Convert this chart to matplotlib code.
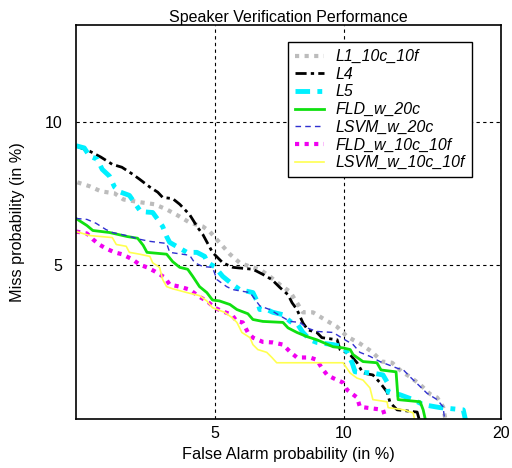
import numpy as np
import matplotlib
matplotlib.use('Agg')
import matplotlib.pyplot as plt
from statistics import NormalDist

# DET curves, values in percent (false alarm, miss)
l1_fa = [2.12, 2.30, 2.48, 2.71, 2.87, 3.18, 3.49, 3.76, 4.07, 4.32, 4.67, 4.86, 5.14, 5.46, 5.77,
         6.11, 6.45, 6.81, 7.19, 7.59, 7.87, 8.12, 8.55, 9.00, 9.66, 10.15, 10.80, 11.44, 11.99,
         12.57, 13.15, 13.64, 14.27, 14.90, 15.37, 15.77, 15.97]
l1_miss = [7.57, 7.43, 7.25, 7.18, 6.97, 6.88, 6.81, 6.64, 6.41, 6.22, 6.10, 5.95, 5.63, 5.30, 5.07,
           4.97, 4.90, 4.72, 4.52, 4.35, 4.10, 3.89, 3.89, 3.76, 3.59, 3.40, 3.27, 3.12, 2.95,
           2.93, 2.78, 2.70, 2.58, 2.44, 2.39, 2.26, 2.05]

l4_fa = [2.09, 2.30, 2.48, 2.67, 2.84, 3.04, 3.18, 3.39, 3.56, 3.67, 3.90, 4.07, 4.32, 4.53, 4.67,
         4.94, 5.24, 5.55, 6.21, 6.56, 6.89, 7.19, 7.51, 7.67, 7.87, 8.12, 8.33, 8.72, 8.95, 9.66,
         9.80, 10.30, 10.65, 10.96, 11.49, 11.88, 12.28, 12.45, 12.86, 14.08, 14.27]
l4_miss = [8.98, 8.76, 8.52, 8.24, 8.13, 7.87, 7.68, 7.40, 7.22, 7.04, 7.00, 6.81, 6.47, 6.07, 5.86,
           5.35, 5.07, 4.95, 4.90, 4.77, 4.64, 4.45, 4.28, 4.10, 3.95, 3.67, 3.53, 3.48, 3.38, 3.34,
           3.16, 3.07, 2.93, 2.76, 2.73, 2.61, 2.47, 2.32, 2.22, 2.19, 2.05]

l5_fa = [2.10, 2.22, 2.30, 2.42, 2.50, 2.62, 2.71, 2.82, 2.98, 3.10, 3.20, 3.45, 3.56, 3.67, 3.76,
         3.83, 4.25, 4.51, 4.72, 4.80, 5.00, 5.24, 5.55, 5.77, 6.21, 6.38, 6.45, 6.70, 6.93, 7.31,
         7.59, 7.91, 8.12, 8.42, 8.72, 9.47, 9.95, 10.15, 10.40, 10.55, 11.49, 12.05, 12.28, 12.34,
         13.03, 13.83, 14.46, 15.56, 17.17, 17.38]
l5_miss = [8.98, 8.89, 8.56, 8.44, 8.05, 7.80, 7.40, 7.22, 7.11, 6.81, 6.57, 6.54, 6.32, 6.10, 5.80,
           5.63, 5.35, 5.35, 5.24, 5.07, 4.97, 4.72, 4.52, 4.40, 4.33, 4.10, 3.95, 3.95, 3.89, 3.84,
           3.70, 3.63, 3.48, 3.34, 3.29, 3.25, 3.21, 3.11, 2.93, 2.78, 2.76, 2.73, 2.62, 2.47,
           2.43, 2.36, 2.29, 2.25, 2.22, 2.05]

fld20_fa = [2.10, 2.26, 2.35, 2.62, 2.94, 3.14, 3.25, 3.33, 3.76, 3.90, 4.07, 4.27, 4.40, 4.58, 4.78,
            4.94, 5.14, 5.46, 5.68, 6.04, 6.21, 6.56, 7.31, 7.51, 7.87, 8.29, 8.72, 9.00, 9.47, 9.95,
            10.30, 10.45, 10.96, 11.71, 11.94, 12.80, 12.92, 14.27, 14.46, 14.65]
fld20_miss = [6.35, 6.13, 5.98, 5.92, 5.80, 5.75, 5.55, 5.35, 5.30, 5.10, 4.95, 4.90, 4.72, 4.47, 4.33,
              4.16, 4.14, 4.06, 3.95, 3.86, 3.74, 3.70, 3.68, 3.57, 3.48, 3.40, 3.34, 3.29, 3.21, 3.19,
              3.16, 3.07, 2.95, 2.93, 2.81, 2.78, 2.36, 2.33, 2.22, 2.05]

svm20_fa = [2.10, 2.26, 2.40, 2.56, 2.67, 2.92, 3.18, 3.39, 3.76, 3.83, 4.32, 4.45, 4.67, 4.94, 5.07,
            5.36, 5.55, 6.11, 6.45, 6.81, 7.19, 7.59, 7.99, 8.29, 8.72, 9.47, 9.95, 10.45, 10.80,
            11.33, 11.88, 12.86, 13.24, 13.64, 14.27, 14.71, 15.37, 15.77, 15.90]
svm20_miss = [6.35, 6.32, 6.20, 6.01, 5.92, 5.83, 5.72, 5.66, 5.60, 5.35, 5.27, 5.07, 4.97, 4.95, 4.64,
              4.47, 4.40, 4.33, 4.03, 3.95, 3.82, 3.70, 3.68, 3.57, 3.50, 3.48, 3.36, 3.25, 3.11,
              3.04, 2.95, 2.84, 2.81, 2.70, 2.55, 2.45, 2.36, 2.26, 2.05]

fld10_fa = [2.10, 2.26, 2.35, 2.45, 2.56, 2.71, 2.84, 3.04, 3.18, 3.33, 3.49, 3.72, 3.83, 4.07, 4.32,
            4.58, 4.78, 5.00, 5.24, 5.52, 5.68, 5.87, 6.04, 6.21, 6.56, 6.93, 7.31, 7.59, 7.87, 8.42,
            8.72, 8.95, 9.19, 9.47, 9.95, 10.15, 10.65, 10.80, 12.05, 12.28]
fld10_miss = [5.95, 5.89, 5.72, 5.57, 5.46, 5.35, 5.30, 5.16, 5.02, 4.95, 4.85, 4.69, 4.52, 4.47, 4.40,
              4.23, 4.14, 3.99, 3.91, 3.84, 3.70, 3.68, 3.48, 3.38, 3.30, 3.29, 3.25, 3.12, 3.02, 3.02,
              2.98, 2.84, 2.73, 2.68, 2.61, 2.50, 2.39, 2.26, 2.22, 2.05]

svm10_fa = [2.10, 2.30, 2.67, 2.74, 2.92, 2.98, 3.18, 3.39, 3.45, 3.60, 3.67, 3.76, 3.90, 4.25, 4.58,
            4.78, 4.94, 5.30, 5.52, 5.68, 5.84, 6.11, 6.21, 6.38, 6.70, 6.89, 7.07, 9.95, 10.30,
            10.65, 10.96, 11.33, 11.49, 12.28, 12.34, 13.24, 13.83, 13.96]
svm10_miss = [5.95, 5.83, 5.77, 5.57, 5.52, 5.35, 5.30, 5.24, 5.07, 4.95, 4.64, 4.47, 4.42, 4.33, 4.26,
              4.14, 3.99, 3.89, 3.78, 3.68, 3.48, 3.38, 3.25, 3.16, 3.11, 3.02, 2.93, 2.93, 2.76,
              2.68, 2.65, 2.53, 2.36, 2.33, 2.25, 2.22, 2.18, 2.05]

labels = ['L1_10c_10f', 'L4', 'L5', 'FLD_w_20c', 'LSVM_w_20c', 'FLD_w_10c_10f', 'LSVM_w_10c_10f']
ticks = [5, 10, 20]
yticks = [5, 10]

nd = NormalDist()
_ppf = np.vectorize(nd.inv_cdf, otypes=[float])
_cdf = np.vectorize(nd.cdf, otypes=[float])

def probit(p):
    p = np.clip(np.asarray(p, dtype=float) / 100.0, 1e-9, 1 - 1e-9)
    return _ppf(p)

def inv_probit(z):
    return _cdf(np.asarray(z, dtype=float)) * 100.0

plt.rcParams['font.family'] = ['Liberation Sans', 'DejaVu Sans']

fig = plt.figure(figsize=(5.12, 4.68), dpi=100)
ax = fig.add_axes([0.1484, 0.1047, 0.8301, 0.8419])
ax.set_xscale('function', functions=(probit, inv_probit))
ax.set_yscale('function', functions=(probit, inv_probit))

ax.plot(l1_fa, l1_miss, color='#bcbcbc', lw=3, linestyle=(0, (1, 1.3)), label=labels[0])
ax.plot(l4_fa, l4_miss, color='black', lw=2, linestyle=(0, (4, 1.5, 1.2, 1.5)), label=labels[1])
ax.plot(l5_fa, l5_miss, color='#00f0ff', lw=3.5, linestyle=(0, (3, 1.5, 1, 1.5)), label=labels[2])
ax.plot(fld20_fa, fld20_miss, color='#10e010', lw=2, label=labels[3])
ax.plot(svm20_fa, svm20_miss, color='#3030d0', lw=1, linestyle=(0, (4, 3)), label=labels[4])
ax.plot(fld10_fa, fld10_miss, color='#f000f0', lw=3, linestyle=(0, (1, 1.3)), label=labels[5])
ax.plot(svm10_fa, svm10_miss, color='#ffff50', lw=1.2, label=labels[6])

ax.set_xlim(2.1, 20)
ax.set_ylim(2.1, 15)
ax.set_xticks(ticks)
ax.set_xticklabels([str(t) for t in ticks])
ax.set_yticks(yticks)
ax.set_yticklabels([str(t) for t in yticks])
ax.minorticks_off()
ax.tick_params(direction='in', length=0, labelsize=11.5)
ax.tick_params(axis='x', pad=5)
ax.tick_params(axis='y', pad=10)
ax.grid(True, color='black', linestyle=(0, (3, 3)), lw=0.8)
for s in ax.spines.values():
    s.set_linewidth(1.2)

ax.set_title('Speaker Verification Performance', fontsize=11.5, pad=2)
ax.set_xlabel('False Alarm probability (in %)', fontsize=11.7, labelpad=4)
ax.set_ylabel('Miss probability (in %)', fontsize=11.7, labelpad=14)

leg = ax.legend(loc='upper left', bbox_to_anchor=(0.499, 0.957), borderaxespad=0,
                fancybox=False, edgecolor='black', framealpha=1, handlelength=1.8,
                labelspacing=0.17, borderpad=0.45, handletextpad=0.75,
                prop={'style': 'italic', 'size': 11.4})
leg.get_frame().set_linewidth(1.0)

fig.savefig('out.png', dpi=100)
